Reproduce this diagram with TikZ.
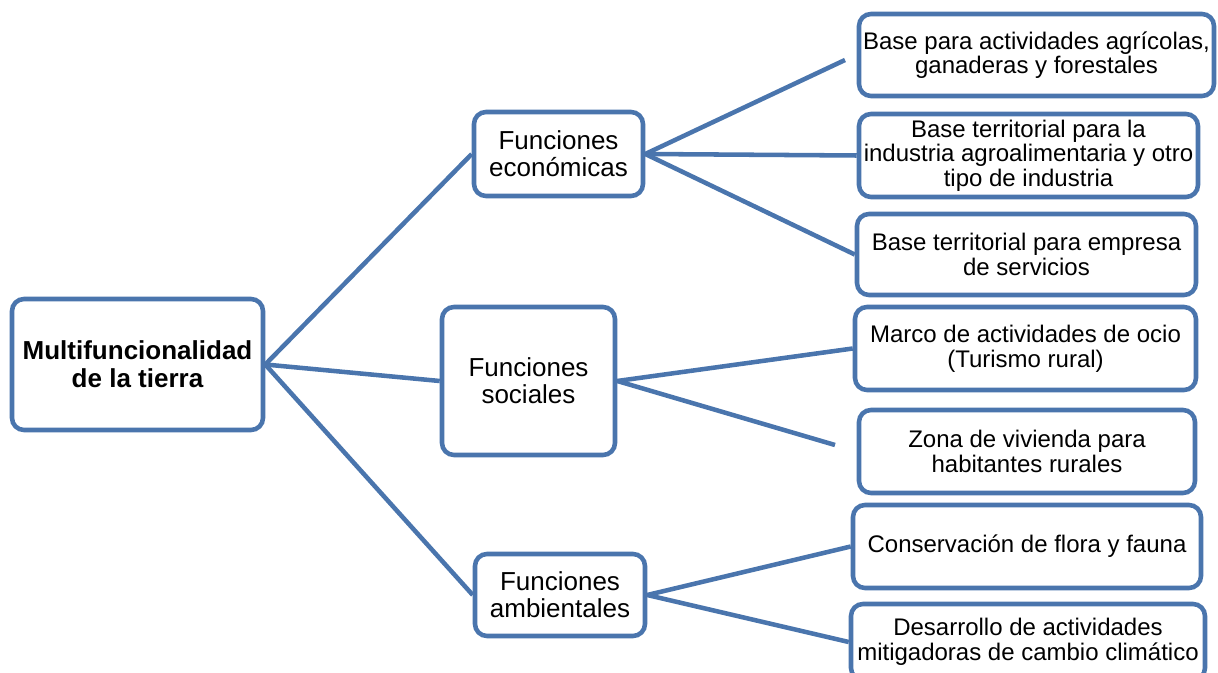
\documentclass[tikz,border=0pt]{standalone}
\usepackage{fontspec}
\setmainfont{Liberation Sans}
\definecolor{lineblue}{HTML}{4A75AD}
\begin{document}
\begin{tikzpicture}[x=0.75pt,y=-0.75pt,
  box/.style={draw=lineblue,line width=3.4pt,rounded corners=9pt,fill=white,
    inner sep=0pt,align=center,text=black},
  leaf/.style={box,font=\fontsize{18}{18.5}\selectfont},
  mid/.style={box,font=\fontsize{19.5}{20}\selectfont},
  link/.style={draw=lineblue,line width=3.4pt}]
\useasboundingbox (0,0) rectangle (1218,673);
\clip (0,0) rectangle (1218,673);
\coordinate (e1) at (845,60);
\coordinate (s2) at (835,445);
\node[box,minimum width=251*0.75pt,minimum height=131*0.75pt,
  font=\fontsize{19.5}{21}\selectfont\bfseries] (root) at (137.5,364.5)
  {Multifuncionalidad\\de la tierra};
\node[mid,minimum width=169*0.75pt,minimum height=84*0.75pt] (econ) at (558.5,154)
  {Funciones\\económicas};
\node[mid,minimum width=173*0.75pt,minimum height=148*0.75pt] (soc) at (528.5,381)
  {Funciones\\sociales};
\node[mid,minimum width=170*0.75pt,minimum height=82*0.75pt] (amb) at (560,595)
  {Funciones\\ambientales};
\node[leaf,minimum width=355*0.75pt,minimum height=82*0.75pt] (l1) at (1036.5,55)
  {Base para actividades agrícolas,\\ganaderas y forestales};
\node[leaf,minimum width=339*0.75pt,minimum height=83*0.75pt] (l2) at (1028.5,155.5)
  {Base territorial para la\\industria agroalimentaria y otro\\tipo de industria};
\node[leaf,minimum width=339*0.75pt,minimum height=81*0.75pt] (l3) at (1026.5,254.5)
  {Base territorial para empresa\\de servicios};
\node[leaf,minimum width=341*0.75pt,minimum height=83*0.75pt] (l4) at (1025.5,348.5)
  {Marco de actividades de ocio\\(Turismo rural)};
\node[leaf,minimum width=336*0.75pt,minimum height=83*0.75pt] (l5) at (1027,451.5)
  {Zona de vivienda para\\habitantes rurales};
\node[leaf,minimum width=348*0.75pt,minimum height=83*0.75pt] (l6) at (1027,546.5)
  {Conservación de flora y fauna};
\node[leaf,minimum width=354*0.75pt,minimum height=76*0.75pt] (l7) at (1028,642)
  {Desarrollo de actividades\\mitigadoras de cambio climático};
\draw[link] (root.east) -- (econ.west);
\draw[link] (root.east) -- (soc.west);
\draw[link] (root.east) -- (amb.west);
\draw[link] (econ.east) -- (e1);
\draw[link] (econ.east) -- (l2.west);
\draw[link] (econ.east) -- (l3.west);
\draw[link] (soc.east) -- (l4.west);
\draw[link] (soc.east) -- (s2);
\draw[link] (amb.east) -- (l6.west);
\draw[link] (amb.east) -- (l7.west);
\end{tikzpicture}
\end{document}
